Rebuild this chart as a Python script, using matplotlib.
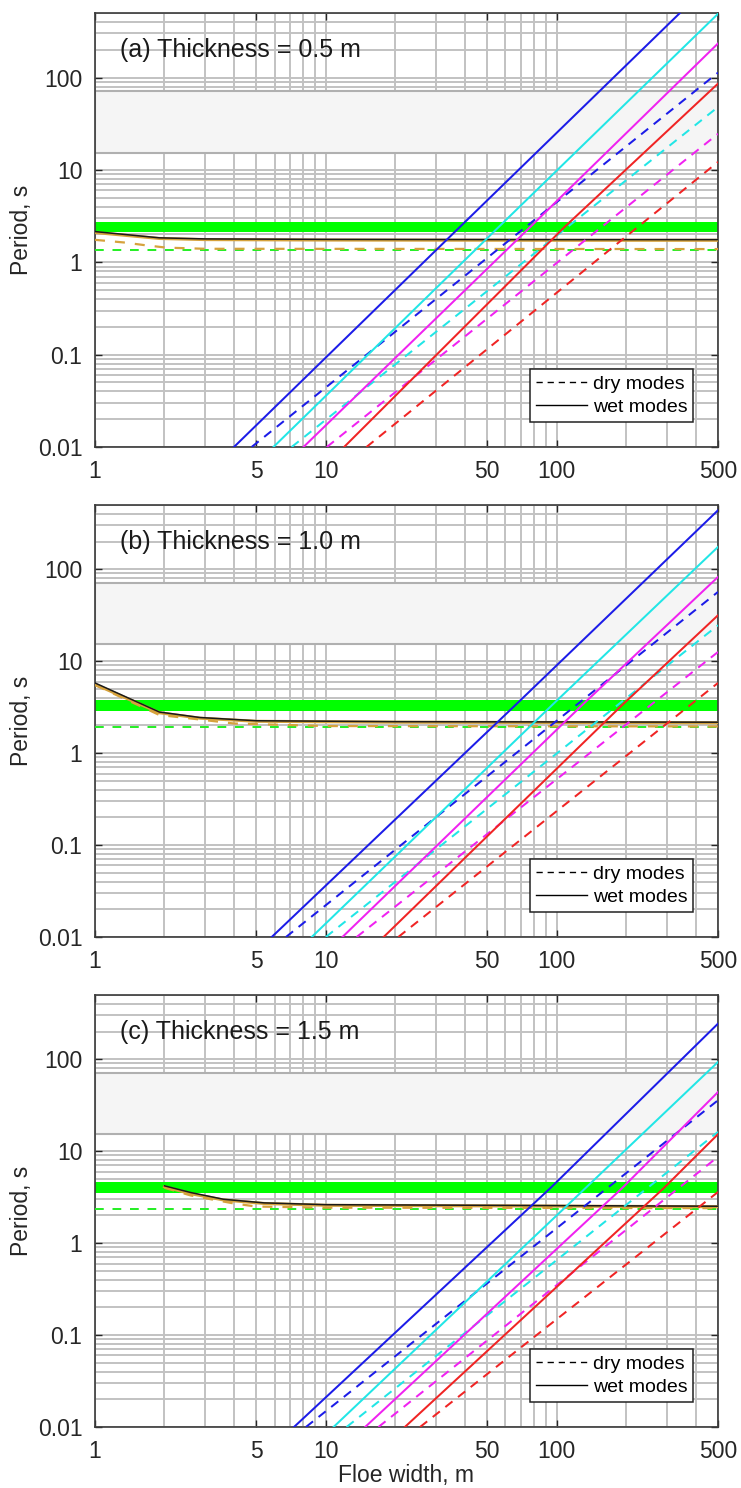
import matplotlib
matplotlib.use('Agg')
import matplotlib.pyplot as plt
from matplotlib.ticker import FixedLocator, FixedFormatter, LogLocator, NullFormatter
from matplotlib.lines import Line2D

plt.rcParams['font.family'] = ['Liberation Sans', 'DejaVu Sans']

# ---------------- data ----------------
panel_titles = ['(a) Thickness = 0.5 m', '(b) Thickness = 1.0 m', '(c) Thickness = 1.5 m']
x_ticks = [1, 5, 10, 50, 100, 500]
x_tick_labels = ['1', '5', '10', '50', '100', '500']
y_ticks = [0.01, 0.1, 1, 10, 100]
y_tick_labels = ['0.01', '0.1', '1', '10', '100']

gray_band = [15.3, 71.0]
green_bands = [[2.13, 2.70], [2.88, 3.77], [3.52, 4.64]]

# dry modes (dashed): floe width at the bottom edge and at 500 m, period values
dry_x_a = [[4.77, 500], [7.11, 500], [10.1, 500], [15.0, 500]]
dry_T_a = [[0.01, 113], [0.01, 48], [0.01, 24.6], [0.01, 12.2]]
dry_x_b = [[6.72, 500], [10.0, 500], [13.6, 500], [20.6, 500]]
dry_T_b = [[0.01, 56.7], [0.01, 24.6], [0.01, 12.6], [0.01, 5.8]]
dry_x_c = [[8.2, 500], [12.3, 500], [16.9, 500], [25.6, 500]]
dry_T_c = [[0.01, 35.8], [0.01, 16.2], [0.01, 8.7], [0.01, 3.6]]

# wet modes (solid)
wet_x_a = [[4.0, 38.0, 342], [5.93, 56.0, 500], [8.0, 76.7, 500], [12.0, 108.0, 500]]
wet_T_a = [[0.01, 2.4, 500], [0.01, 2.4, 490], [0.01, 2.4, 234], [0.01, 2.4, 86]]
wet_x_b = [[5.83, 66, 500], [8.69, 95.2, 500], [11.8, 128.5, 500], [17.8, 191.4, 500]]
wet_T_b = [[0.01, 3.3, 438], [0.01, 3.3, 175], [0.01, 3.3, 82.5], [0.01, 3.3, 31.6]]
wet_x_c = [[7.28, 95.2, 500], [10.8, 132.8, 500], [14.8, 191.4, 500], [22.0, 290, 500]]
wet_T_c = [[0.01, 4.1, 244], [0.01, 3.93, 93.5], [0.01, 3.93, 44], [0.01, 3.93, 15.3]]

# rigid-body style curves
black_x_a = [1, 1.9, 3, 10, 100, 500]
black_T_a = [2.15, 1.84, 1.79, 1.77, 1.76, 1.76]
orange_T_a = [2.10, 1.81, 1.76, 1.74, 1.73, 1.73]
odash_x_a = [1, 1.33, 1.65, 2.04, 3, 500]
odash_T_a = [1.75, 1.64, 1.53, 1.44, 1.40, 1.39]

black_x_b = [1, 1.9, 2.85, 5, 20, 500]
black_T_b = [5.8, 2.8, 2.44, 2.25, 2.2, 2.17]
orange_T_b = [5.6, 2.75, 2.4, 2.22, 2.17, 2.14]
odash_x_b = [1, 1.9, 2.85, 4, 10, 500]
odash_T_b = [5.5, 2.6, 2.32, 2.1, 1.97, 1.95]

black_x_c = [2.0, 2.6, 3.6, 5.4, 10, 500]
black_T_c = [4.2, 3.55, 3.0, 2.74, 2.62, 2.52]
orange_T_c = [4.1, 3.45, 2.95, 2.7, 2.58, 2.49]
odash_x_c = [2.0, 2.6, 3.2, 4.0, 5.0, 10, 500]
odash_T_c = [4.0, 3.3, 2.99, 2.7, 2.5, 2.43, 2.4]

green_dash_T = [1.37, 1.93, 2.35]

# ---------------- styling ----------------
mode_colors = ['#1c1ce8', '#22e6e6', '#f022f0', '#f02424']
orange = '#d6a23c'
grid_col = '#c2c2c2'

panels = [
    (dry_x_a, dry_T_a, wet_x_a, wet_T_a, black_x_a, black_T_a, orange_T_a, odash_x_a, odash_T_a),
    (dry_x_b, dry_T_b, wet_x_b, wet_T_b, black_x_b, black_T_b, orange_T_b, odash_x_b, odash_T_b),
    (dry_x_c, dry_T_c, wet_x_c, wet_T_c, black_x_c, black_T_c, orange_T_c, odash_x_c, odash_T_c),
]

fig = plt.figure(figsize=(7.41, 14.88), dpi=100)
positions = [
    [95 / 741, 1 - 447 / 1488, 623 / 741, 434 / 1488],
    [95 / 741, 1 - 937 / 1488, 623 / 741, 432 / 1488],
    [95 / 741, 1 - 1427 / 1488, 623 / 741, 432 / 1488],
]

for i, (dx, dT, wx, wT, bx, bT, oT, odx, odT) in enumerate(panels):
    ax = fig.add_axes(positions[i])
    ax.set_xscale('log')
    ax.set_yscale('log')
    ax.set_xlim(1, 500)
    ax.set_ylim(0.01, 500)

    ax.xaxis.set_major_locator(FixedLocator(x_ticks))
    ax.xaxis.set_major_formatter(FixedFormatter(x_tick_labels))
    ax.xaxis.set_minor_locator(LogLocator(base=10, subs=range(2, 10)))
    ax.xaxis.set_minor_formatter(NullFormatter())
    ax.yaxis.set_major_locator(FixedLocator(y_ticks))
    ax.yaxis.set_major_formatter(FixedFormatter(y_tick_labels))
    ax.yaxis.set_minor_locator(LogLocator(base=10, subs=range(2, 10)))
    ax.yaxis.set_minor_formatter(NullFormatter())

    ax.grid(True, which='both', color=grid_col, lw=1.4, zorder=0)
    ax.set_axisbelow(True)
    ax.tick_params(which='major', direction='in', length=5, width=1.0,
                   top=True, right=True, labelsize=16.5, pad=9, colors='#262626')
    ax.tick_params(which='minor', direction='in', length=0, top=True, right=True)
    for s in ax.spines.values():
        s.set_color('#3a3a3a')
        s.set_linewidth(1.2)

    ax.axhspan(gray_band[0], gray_band[1], facecolor='#f5f5f5', edgecolor='#b0b0b0',
               lw=1.5, zorder=1)
    ax.axhspan(green_bands[i][0], green_bands[i][1], facecolor='#00ff00',
               edgecolor='none', zorder=2)

    ax.plot([1, 500], [green_dash_T[i], green_dash_T[i]], color='#22ee22',
            ls=(0, (4.5, 4.5)), lw=1.4, zorder=3)
    ax.plot(odx, odT, color=orange, ls=(0, (4.5, 4.5)), lw=1.6, zorder=3)
    ax.plot(bx, oT, color=orange, lw=2.2, zorder=3)
    ax.plot(bx, bT, color='#1a1a1a', lw=1.1, zorder=4)

    for k in range(4):
        ax.plot(dx[k], dT[k], color=mode_colors[k], ls=(0, (4.5, 3.5)), lw=1.45, zorder=5)
        ax.plot(wx[k], wT[k], color=mode_colors[k], lw=1.45, zorder=5)

    ax.text(0.04, 0.915, panel_titles[i], transform=ax.transAxes, fontsize=18,
            ha='left', va='center', color='#1a1a1a', zorder=6)
    ax.set_ylabel('Period, s', fontsize=16.5, color='#262626')
    ax.yaxis.set_label_coords(-0.1, 0.5)

    handles = [Line2D([], [], color='k', ls=(0, (4.5, 3.5)), lw=1.0),
               Line2D([], [], color='k', lw=1.0)]
    leg = ax.legend(handles, ['dry modes', 'wet modes'], loc='lower right',
                    bbox_to_anchor=(0.96, 0.058), fontsize=14, frameon=True,
                    fancybox=False, edgecolor='#222222', framealpha=1,
                    handlelength=2.6, handletextpad=0.3, borderpad=0.3,
                    labelspacing=0.3, borderaxespad=0)
    leg.get_frame().set_linewidth(1.1)
    leg.set_zorder(7)

    if i == 2:
        ax.set_xlabel('Floe width, m', fontsize=16.5, color='#262626', labelpad=1)

fig.savefig('out.png', dpi=100)
